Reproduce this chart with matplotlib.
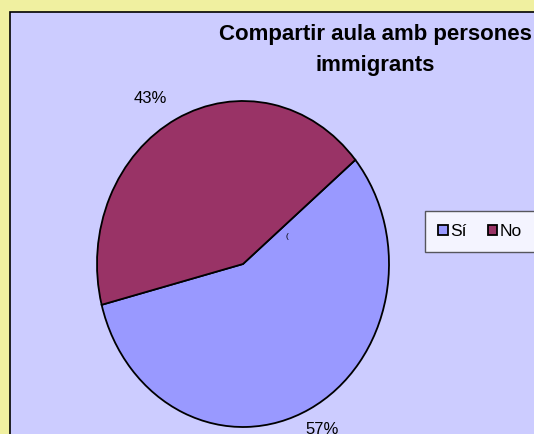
import matplotlib
matplotlib.use("Agg")
import matplotlib.pyplot as plt
import numpy as np
from matplotlib.patches import Rectangle

labels = ["Sí", "No"]
values = [57, 43]
pct_labels = ["57%", "43%"]
colors = ["#9999FF", "#993366"]
title = "Compartir aula amb persones\nimmigrants"

plt.rcParams["font.family"] = ["Liberation Sans", "DejaVu Sans"]

fig = plt.figure(figsize=(5.34, 4.34), dpi=100)
fig.patch.set_facecolor("#F0F0A0")

# background axes holding the lavender chart panel (runs off right/bottom)
bg = fig.add_axes([0, 0, 1, 1])
bg.axis("off")
bg.set_xlim(0, 534)
bg.set_ylim(434, 0)
bg.add_patch(Rectangle((10, 12), 600, 500, facecolor="#CCCCFF",
                       edgecolor="black", linewidth=1.2))

ax = fig.add_axes([0, 0, 1, 1])
ax.set_facecolor("none")
ax.axis("off")

wedges, _ = ax.pie(values, colors=colors, startangle=-165.5,
                   wedgeprops=dict(edgecolor="black", linewidth=1.3))
# stretch the pie into the tall ellipse of the original
ax.set_aspect("auto")
ax.set_xlim(-243 / 146, (534 - 243) / 146)
ax.set_ylim(-170 / 163, 264 / 163)

# label distances (x, y) from centre, Excel puts them a bit unevenly
label_dist = [(1.19, 1.14), (1.40, 1.14)]
for w, txt, (rx, ry) in zip(wedges, pct_labels, label_dist):
    mid = np.deg2rad((w.theta1 + w.theta2) / 2)
    ax.text(rx * np.cos(mid), ry * np.sin(mid), txt, fontsize=12,
            ha="center", va="center")

ax.text(0.3, 0.17, "(", fontsize=6, ha="center", va="center")

fig.text(375 / 534, 1 - 50 / 434, title, fontsize=16, fontweight="bold",
         ha="center", va="center", linespacing=1.6)

leg = ax.legend(wedges, labels, loc="upper left", ncol=2,
                bbox_to_anchor=(425 / 534, 1 - 211 / 434),
                bbox_transform=fig.transFigure, fontsize=12.5, frameon=True,
                fancybox=False, handlelength=0.55, handleheight=0.55,
                handletextpad=0.15, columnspacing=1.2, borderpad=0.75,
                borderaxespad=0)
leg.get_frame().set_edgecolor("#333333")
leg.get_frame().set_linewidth(1.0)

fig.savefig("out.png", dpi=100, facecolor=fig.get_facecolor())
